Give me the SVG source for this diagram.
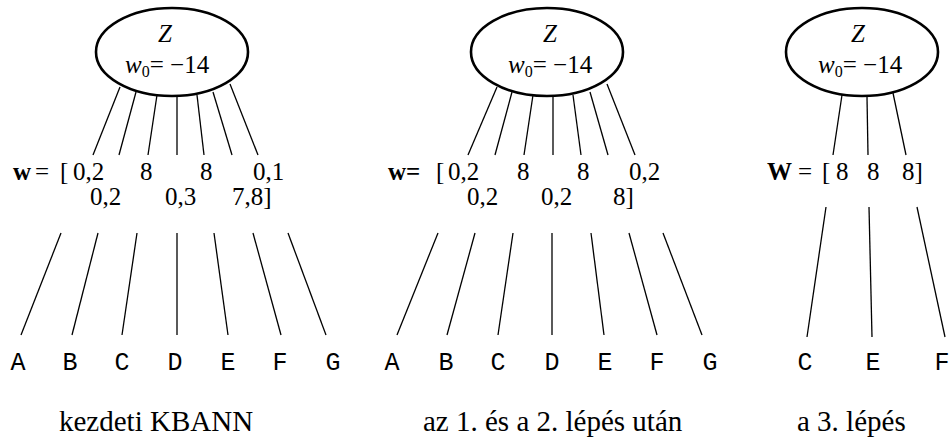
<svg xmlns="http://www.w3.org/2000/svg" width="952" height="441" viewBox="0 0 952 441">
  <style>
    .unit { fill: #fff; stroke: #000; stroke-width: 2.6; }
    .serif { font-family: "Liberation Serif", "Times New Roman", serif; fill: #000; }
    .lbl { font-size: 25px; }
    .it { font-style: italic; }
    .sub { font-size: 16px; }
    .wt { font-size: 25px; }
    .b { font-weight: bold; }
    .inp { font-family: "Liberation Mono", "Courier New", monospace; font-size: 25px; fill: #000; text-anchor: middle; }
    .cap { font-size: 29px; }
    .links line { stroke: #000; stroke-width: 1.3; }
  </style>

  <!-- connectors: unit to weight row, weight row to inputs -->
  <g id="connectors" class="links">
    <!-- initial network -->
    <line x1="120" y1="87" x2="93" y2="155"/>
    <line x1="136" y1="92" x2="119" y2="155"/>
    <line x1="157" y1="95" x2="148" y2="155"/>
    <line x1="177" y1="97" x2="177" y2="155"/>
    <line x1="197" y1="95" x2="204" y2="155"/>
    <line x1="213" y1="92" x2="232" y2="155"/>
    <line x1="230" y1="84" x2="258" y2="155"/>
    <line x1="61" y1="233" x2="21" y2="335"/>
    <line x1="98" y1="233" x2="72" y2="335"/>
    <line x1="137" y1="233" x2="122" y2="335"/>
    <line x1="177" y1="233" x2="177" y2="335"/>
    <line x1="214" y1="233" x2="228" y2="335"/>
    <line x1="253" y1="233" x2="281" y2="335"/>
    <line x1="288" y1="233" x2="326" y2="335"/>
    <!-- after steps 1 and 2 -->
    <line x1="497" y1="87" x2="468" y2="155"/>
    <line x1="512" y1="92" x2="495" y2="155"/>
    <line x1="533" y1="95" x2="524" y2="155"/>
    <line x1="553" y1="97" x2="553" y2="155"/>
    <line x1="573" y1="95" x2="581" y2="155"/>
    <line x1="590" y1="92" x2="608" y2="155"/>
    <line x1="607" y1="84" x2="635" y2="155"/>
    <line x1="438" y1="233" x2="397" y2="335"/>
    <line x1="475" y1="233" x2="447" y2="335"/>
    <line x1="513" y1="233" x2="498" y2="335"/>
    <line x1="552" y1="233" x2="552" y2="335"/>
    <line x1="591" y1="233" x2="604" y2="335"/>
    <line x1="629" y1="233" x2="657" y2="335"/>
    <line x1="663" y1="233" x2="702" y2="335"/>
    <!-- after step 3 -->
    <line x1="842" y1="95" x2="833" y2="155"/>
    <line x1="867" y1="97" x2="868" y2="155"/>
    <line x1="893" y1="93" x2="906" y2="155"/>
    <line x1="826" y1="207" x2="807" y2="337"/>
    <line x1="869" y1="207" x2="872" y2="337"/>
    <line x1="917" y1="207" x2="945" y2="337"/>
  </g>

  <!-- output units -->
  <g id="unit-z-initial">
    <ellipse class="unit" cx="172" cy="52" rx="76" ry="44"/>
    <text class="serif lbl it" x="165" y="42" text-anchor="middle">Z</text>
    <text class="serif lbl" x="125" y="73"><tspan class="it">w</tspan><tspan class="sub" dy="4">0</tspan><tspan dy="-4">= −14</tspan></text>
  </g>
  <g id="unit-z-step12">
    <ellipse class="unit" cx="547" cy="52" rx="76" ry="44"/>
    <text class="serif lbl it" x="550" y="42" text-anchor="middle">Z</text>
    <text class="serif lbl" x="508" y="73"><tspan class="it">w</tspan><tspan class="sub" dy="4">0</tspan><tspan dy="-4">= −14</tspan></text>
  </g>
  <g id="unit-z-step3">
    <ellipse class="unit" cx="862" cy="52" rx="76" ry="44"/>
    <text class="serif lbl it" x="858" y="42" text-anchor="middle">Z</text>
    <text class="serif lbl" x="818" y="73"><tspan class="it">w</tspan><tspan class="sub" dy="4">0</tspan><tspan dy="-4">= −14</tspan></text>
  </g>

  <!-- weight vectors -->
  <g id="weights-initial" class="serif wt">
    <text x="13" y="180" class="b">w</text>
    <text x="35" y="180">=</text>
    <text x="60" y="180">[</text>
    <text x="73" y="180">0,2</text>
    <text x="140" y="180">8</text>
    <text x="200" y="180">8</text>
    <text x="253" y="180">0,1</text>
    <text x="90" y="205">0,2</text>
    <text x="165" y="205">0,3</text>
    <text x="232" y="205">7,8]</text>
  </g>
  <g id="weights-step12" class="serif wt">
    <text x="388" y="180" class="b">w=</text>
    <text x="436" y="180">[</text>
    <text x="448" y="180">0,2</text>
    <text x="517" y="180">8</text>
    <text x="577" y="180">8</text>
    <text x="629" y="180">0,2</text>
    <text x="467" y="205">0,2</text>
    <text x="541" y="205">0,2</text>
    <text x="613" y="205">8]</text>
  </g>
  <g id="weights-step3" class="serif wt">
    <text x="767" y="180" class="b">W</text>
    <text x="798" y="180">=</text>
    <text x="822" y="180">[</text>
    <text x="836" y="180">8</text>
    <text x="867" y="180">8</text>
    <text x="902" y="180">8]</text>
  </g>

  <!-- input units -->
  <g id="inputs-initial" class="inp">
    <text x="18" y="370">A</text>
    <text x="70" y="370">B</text>
    <text x="122" y="370">C</text>
    <text x="175" y="370">D</text>
    <text x="228" y="370">E</text>
    <text x="280" y="370">F</text>
    <text x="333" y="370">G</text>
  </g>
  <g id="inputs-step12" class="inp">
    <text x="392" y="370">A</text>
    <text x="446" y="370">B</text>
    <text x="498" y="370">C</text>
    <text x="552" y="370">D</text>
    <text x="605" y="370">E</text>
    <text x="657" y="370">F</text>
    <text x="710" y="370">G</text>
  </g>
  <g id="inputs-step3" class="inp">
    <text x="805" y="370">C</text>
    <text x="873" y="370">E</text>
    <text x="942" y="370">F</text>
  </g>

  <!-- captions -->
  <g id="captions" class="serif cap">
    <text x="59" y="431">kezdeti KBANN</text>
    <text x="423" y="431">az 1. és a 2. lépés után</text>
    <text x="797" y="431">a 3. lépés</text>
  </g>
</svg>
